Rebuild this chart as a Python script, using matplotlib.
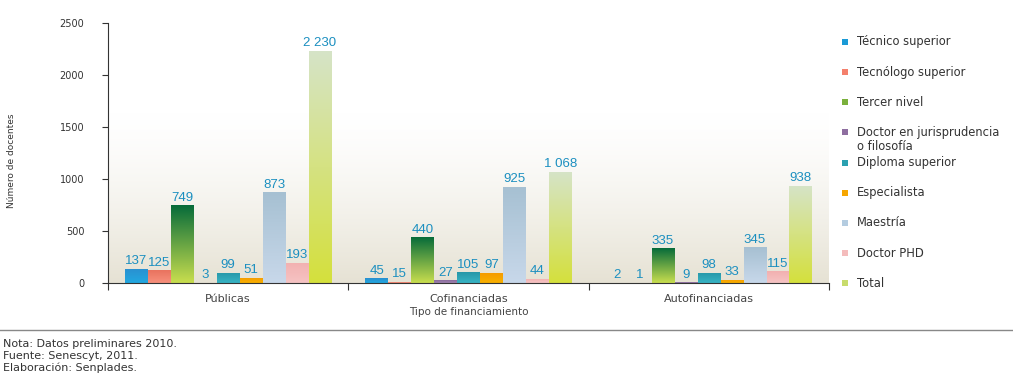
import numpy as np
import matplotlib
matplotlib.use("Agg")
import matplotlib.pyplot as plt
from matplotlib.patches import Rectangle
from matplotlib.colors import LinearSegmentedColormap, to_rgb

plt.rcParams['font.family'] = ['DejaVu Sans']

# Data
groups = ["Públicas", "Cofinanciadas", "Autofinanciadas"]
series = ["Técnico superior", "Tecnólogo superior", "Tercer nivel",
          "Doctor en jurisprudencia\no filosofía", "Diploma superior",
          "Especialista", "Maestría", "Doctor PHD", "Total"]
tecnico = [137, 45, 2]
tecnologo = [125, 15, 1]
tercer = [749, 440, 335]
doctor_jur = [3, 27, 9]
diploma = [99, 105, 98]
especialista = [51, 97, 33]
maestria = [873, 925, 345]
doctor_phd = [193, 44, 115]
total = [2230, 1068, 938]
values = [tecnico, tecnologo, tercer, doctor_jur, diploma,
          especialista, maestria, doctor_phd, total]

# (top colour, bottom colour) for each series
colors = [("#2a8fd0", "#22a8e0"),
          ("#e8705c", "#f7907c"),
          ("#066b3a", "#c9de4e"),
          ("#8a6b9c", "#a084b0"),
          ("#2796a8", "#38b4c4"),
          ("#f59a00", "#f8b000"),
          ("#a6c0d2", "#c8d8ea"),
          ("#f2b0b0", "#f6c4c4"),
          ("#d6e4c8", "#d4e03c")]
legend_colors = ["#1a9ad6", "#f4806c", "#7ab03c", "#8e6ea0", "#2aa0b0",
                 "#f6a600", "#b4cce0", "#f4bcbc", "#c8dc6c"]

W, H = 1013, 376
fig = plt.figure(figsize=(W / 100, H / 100), dpi=100)
ax = fig.add_axes([0.1066, 0.247, 0.7117, 0.692])

ax.set_xlim(-0.5, 2.5)
ax.set_ylim(0, 2500)

# Plot-area background: white fading to warm grey at the bottom
t = np.linspace(0, 1, 256)
ramp = np.clip((t - 0.35) / 0.65, 0, 1) ** 1.4
top = np.array(to_rgb("#ffffff"))
bot = np.array(to_rgb("#e6e2d4"))
bg = top[None, :] * (1 - ramp[:, None]) + bot[None, :] * ramp[:, None]
bg = bg[::-1][:, None, :]
ax.imshow(np.repeat(bg, 2, axis=1), extent=[-0.5, 2.5, 0, 2500],
          aspect='auto', zorder=0, origin='lower',
          interpolation='bilinear')

n = len(series)
group_w = 0.86
bw = group_w / n
x = np.arange(len(groups))
label_color = "#1b8fc0"

for i, (vals, (ctop, cbot)) in enumerate(zip(values, colors)):
    pos = x - group_w / 2 + bw * (i + 0.5)
    bars = ax.bar(pos, vals, width=bw * 0.97, color='none', zorder=2)
    cmap = LinearSegmentedColormap.from_list(f"c{i}", [cbot, ctop])
    grad = np.linspace(0, 1, 256)[:, None]
    for b, v in zip(bars, vals):
        x0 = b.get_x()
        im = ax.imshow(grad, cmap=cmap, origin='lower', aspect='auto',
                       extent=[x0, x0 + b.get_width(), 0, max(v, 1e-6)],
                       zorder=2, interpolation='bilinear')
        im.set_clip_path(b)
        txt = f"{v:,}".replace(",", " ")
        ax.text(b.get_x() + b.get_width() / 2, v + 15, txt,
                ha='center', va='bottom', color=label_color,
                fontsize=9.5, family=['Liberation Sans', 'DejaVu Sans'],
                zorder=4)

ax.set_xlim(-0.5, 2.5)
ax.set_ylim(0, 2500)

# Axes styling
for s in ['top', 'right']:
    ax.spines[s].set_visible(False)
ax.spines['left'].set_color("#333333")
ax.spines['bottom'].set_color("#333333")
ax.set_yticks([0, 500, 1000, 1500, 2000, 2500])
ax.tick_params(axis='y', labelsize=7, colors="#333333", length=4, pad=13)
ax.set_xticks([-0.5, 0.5, 1.5, 2.5])
ax.set_xticklabels([])
ax.tick_params(axis='x', length=5, colors="#333333")
ax.set_xticks(x, minor=True)
ax.set_xticklabels(groups, minor=True, fontsize=8, color="#444444")
ax.tick_params(axis='x', which='minor', length=0, pad=8)
ax.set_xlabel("Tipo de financiamiento", fontsize=7.5, color="#444444",
              labelpad=2)
ax.set_ylabel("Número de docentes", fontsize=6.5, color="#333333")
ax.yaxis.set_label_coords(-0.128, 0.47)

# Legend: small squares with labels, one row per series
row0, row_step, line_step = 42, 30.15, 14
for i, (lab, c) in enumerate(zip(series, legend_colors)):
    yc = row0 + row_step * i
    fig.add_artist(Rectangle((842 / W, 1 - (yc + 3) / H), 6 / W, 6 / H,
                             transform=fig.transFigure, facecolor=c,
                             edgecolor='none'))
    for j, line in enumerate(lab.split("\n")):
        fig.text(857 / W, 1 - (yc + line_step * j) / H, line, fontsize=8.3,
                 color="#333333", ha='left', va='center')

# Separator rule and source notes
fig.add_artist(plt.Line2D([0, 1], [1 - 330 / H, 1 - 330 / H],
                          color="#888888", lw=1))
notes = ["Nota: Datos preliminares 2010.",
         "Fuente: Senescyt, 2011.",
         "Elaboración: Senplades."]
for k, s in enumerate(notes):
    fig.text(0.003, 1 - (344 + 12 * k) / H, s, fontsize=8,
             color="#333333", va='center', ha='left')

fig.savefig("out.png", dpi=100)
